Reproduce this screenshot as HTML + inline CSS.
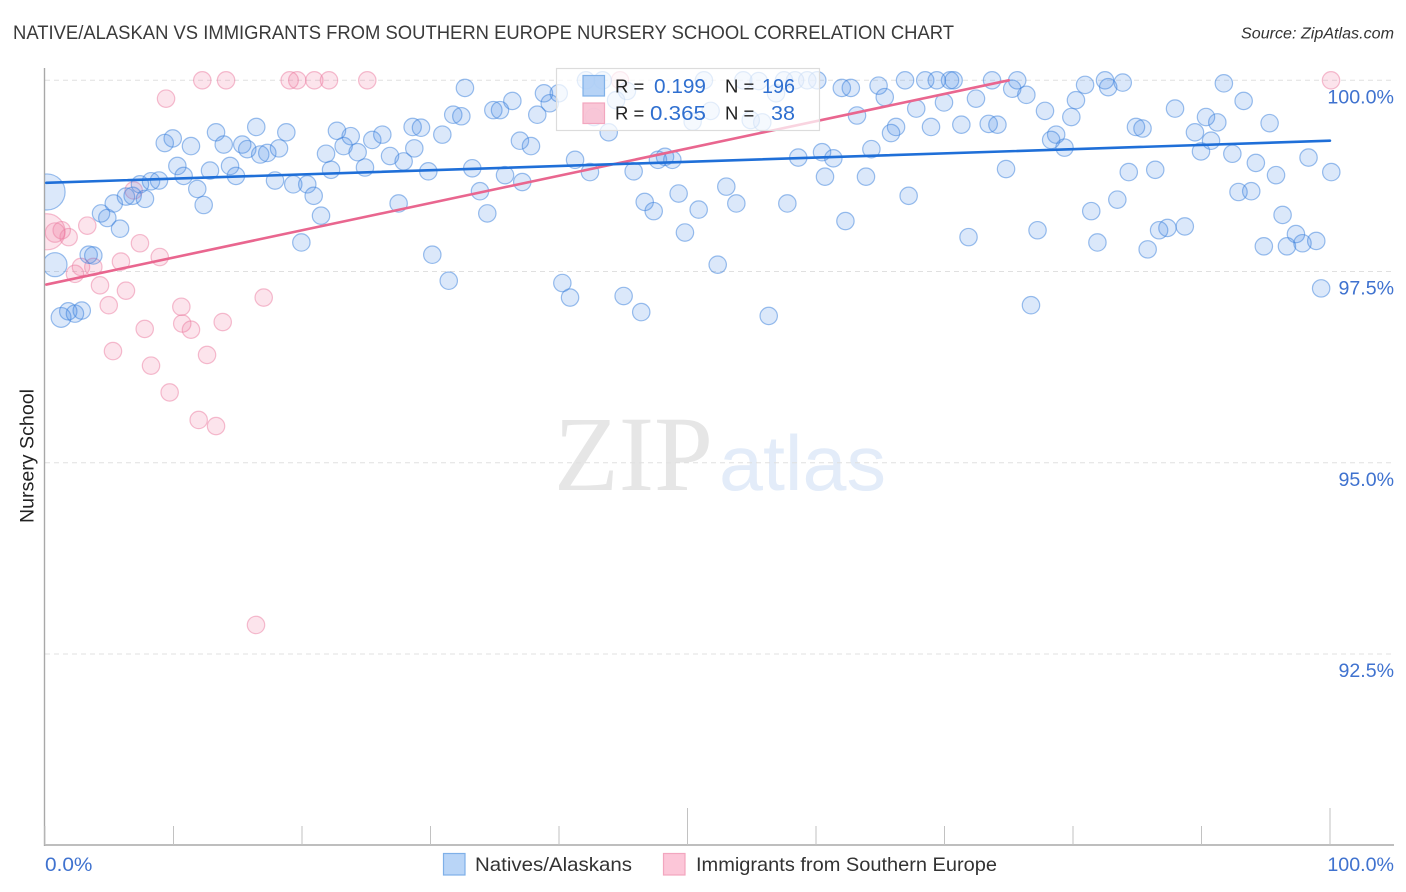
<!DOCTYPE html>
<html lang="en">
<head>
<meta charset="utf-8">
<title>Native/Alaskan vs Immigrants from Southern Europe Nursery School Correlation Chart</title>
<style>
html,body{margin:0;padding:0;background:#fff;}
svg{display:block;font-family:"Liberation Sans",sans-serif;}
</style>
</head>
<body>
<svg id="chart" width="1406" height="892" viewBox="0 0 1406 892" xmlns="http://www.w3.org/2000/svg">
  <defs>
    <clipPath id="plot-clip"><rect x="45" y="0" width="1361" height="892"/></clipPath>
  </defs>
  <rect width="1406" height="892" fill="#fff"/>
  <text x="13" y="39" font-size="19" fill="#3a3a3a" textLength="941" lengthAdjust="spacingAndGlyphs">NATIVE/ALASKAN VS IMMIGRANTS FROM SOUTHERN EUROPE NURSERY SCHOOL CORRELATION CHART</text>
  <text x="1394" y="38.5" font-size="15.5" font-style="italic" fill="#333" text-anchor="end" textLength="153" lengthAdjust="spacingAndGlyphs">Source: ZipAtlas.com</text>
  <g>
    <text x="554" y="490" font-family="'Liberation Serif',serif" font-size="107" fill="#e6e6e6" textLength="159" lengthAdjust="spacingAndGlyphs">ZIP</text>
    <text x="719" y="490" font-size="78" fill="#e3ecf9" textLength="167" lengthAdjust="spacingAndGlyphs">atlas</text>
  </g>
  <g id="grid"></g>
  <g id="axes"></g>
  <g id="points" clip-path="url(#plot-clip)"></g>
  <g id="trends"></g>
  <g id="tick-labels"></g>
  <text transform="translate(33.5,523) rotate(-90)" font-size="19.5" fill="#222" textLength="134" lengthAdjust="spacingAndGlyphs">Nursery School</text>

  <g>
    <rect x="556.5" y="68.5" width="263" height="62" fill="#fff" fill-opacity="0.72" stroke="#dcdcdc" stroke-width="1.2"/>
    <rect x="583" y="75.5" width="21.5" height="20.5" fill="#a9cbf5" fill-opacity="0.85" stroke="#7fb0e8" stroke-width="1.2"/>
    <rect x="583" y="103" width="21.5" height="20.5" fill="#f8bdd0" fill-opacity="0.85" stroke="#f2a6bf" stroke-width="1.2"/>
    <text x="615" y="92.5" font-size="18.5" fill="#222">R =</text>
    <text x="706" y="93" font-size="20.5" fill="#2f6fd0" text-anchor="end" textLength="52" lengthAdjust="spacingAndGlyphs">0.199</text>
    <text x="725" y="92.5" font-size="18.5" fill="#222">N =</text>
    <text x="795" y="93" font-size="20.5" fill="#2f6fd0" text-anchor="end" textLength="33" lengthAdjust="spacingAndGlyphs">196</text>
    <text x="615" y="119.5" font-size="18.5" fill="#222">R =</text>
    <text x="706" y="120" font-size="20.5" fill="#2f6fd0" text-anchor="end" textLength="56" lengthAdjust="spacingAndGlyphs">0.365</text>
    <text x="725" y="119.5" font-size="18.5" fill="#222">N =</text>
    <text x="795" y="120" font-size="20.5" fill="#2f6fd0" text-anchor="end" textLength="24" lengthAdjust="spacingAndGlyphs">38</text>
  </g>

  <g>
    <g>
      <rect x="443.5" y="853.5" width="21.5" height="21.5" fill="#b9d5f7" stroke="#7fb0e8" stroke-width="1.2"/>
      <text x="475" y="871" font-size="19.5" fill="#333" textLength="157" lengthAdjust="spacingAndGlyphs">Natives/Alaskans</text>
    </g>
    <g>
      <rect x="663.5" y="853.5" width="21.5" height="21.5" fill="#fcc6d8" stroke="#f2a6bf" stroke-width="1.2"/>
      <text x="696" y="871" font-size="19.5" fill="#333" textLength="301" lengthAdjust="spacingAndGlyphs">Immigrants from Southern Europe</text>
    </g>
  </g>
</svg>

<script>
// Axis data
const yTickValues = [100, 97.5, 95, 92.5];
const yTickLabels = ["100.0%", "97.5%", "95.0%", "92.5%"];
const xTickValues = [0, 10, 20, 30, 40, 50, 60, 70, 80, 90, 100];
const xMajorTicks = [50, 100];
const xEndValues = [0, 100];
const xEndLabels = ["0.0%", "100.0%"];

// Natives/Alaskans series
const nativesX = [0.16,0.78,1.25,1.81,2.33,2.86,3.40,3.76,4.36,4.85,5.84,5.35,6.30,6.82,7.39,7.78,8.25,8.87,9.32,9.94,
11.36,10.30,10.79,11.85,12.35,12.84,13.31,13.91,14.40,14.86,15.35,15.74,16.44,16.75,17.30,18.21,18.78,17.90,19.32,20.41,
20.91,21.48,19.95,22.72,23.79,23.24,21.87,22.26,24.33,25.47,26.25,26.85,27.91,24.90,27.52,28.61,29.26,28.74,32.68,31.77,
32.40,30.92,29.83,33.25,33.85,34.42,30.14,31.42,34.89,35.41,36.37,38.31,38.83,39.28,39.98,36.96,37.82,35.80,37.14,41.25,
42.41,43.87,45.81,47.70,48.25,48.82,46.67,47.37,49.31,50.87,49.80,53.02,53.80,57.77,52.35,40.26,40.86,45.03,46.40,56.32,
58.62,60.47,61.35,60.70,62.29,42.10,43.40,44.44,45.29,42.72,51.28,51.80,50.40,54.34,55.54,56.89,54.92,55.82,57.51,58.37,
59.32,60.10,62.01,62.71,64.87,65.35,66.93,68.50,69.40,70.43,70.71,73.70,75.66,75.27,76.37,72.45,69.96,67.80,63.19,66.23,
65.84,68.95,71.31,73.44,74.12,77.82,80.23,80.94,79.87,82.49,82.74,83.87,91.74,93.28,87.94,90.35,91.23,95.30,84.90,85.41,
89.49,90.74,89.96,78.69,78.30,79.34,64.31,92.40,94.23,95.80,98.33,100.10,84.34,86.40,74.79,63.89,67.21,83.45,81.42,92.88,
93.87,96.31,71.87,77.24,81.90,86.70,87.35,88.70,85.81,94.85,96.65,97.35,97.86,98.93,99.31,76.73];
const nativesY = [98.54,97.59,96.90,96.98,96.95,96.99,97.72,97.71,98.26,98.20,98.06,98.39,98.48,98.49,98.64,98.45,98.68,98.69,99.18,99.24,
99.14,98.88,98.75,98.58,98.37,98.82,99.32,99.16,98.88,98.75,99.16,99.10,99.39,99.03,99.05,99.11,99.32,98.69,98.64,98.64,
98.49,98.23,97.88,99.34,99.27,99.14,99.04,98.83,99.06,99.22,99.29,99.01,98.94,98.86,98.39,99.39,99.38,99.11,99.90,99.55,
99.53,99.29,98.81,98.85,98.55,98.26,97.72,97.38,99.61,99.61,99.73,99.55,99.83,99.70,99.83,99.21,99.14,98.76,98.67,98.96,
98.80,99.32,98.81,98.96,99.00,98.96,98.41,98.29,98.52,98.31,98.01,98.61,98.39,98.39,97.59,97.35,97.16,97.18,96.97,96.92,
98.99,99.06,98.98,98.74,98.16,100,100,99.74,99.86,99.52,100,99.60,99.46,100,99.99,99.83,99.48,99.45,100,100,
100,100,99.90,99.90,99.93,99.78,100,100,100,100,100,100,100,99.89,99.81,99.76,99.71,99.63,99.54,99.39,
99.31,99.39,99.42,99.43,99.42,99.60,99.74,99.94,99.52,100,99.91,99.97,99.96,99.73,99.63,99.52,99.45,99.44,99.39,99.37,
99.32,99.21,99.07,99.29,99.22,99.12,99.10,99.04,98.92,98.76,98.99,98.80,98.80,98.83,98.84,98.74,98.49,98.44,98.29,98.54,
98.55,98.24,97.95,98.04,97.88,98.04,98.07,98.09,97.79,97.83,97.83,97.99,97.87,97.90,97.28,97.06];
const nativesWeights = [4.3, 1.9, 1.3];

// Immigrants from Southern Europe series
const immigrantsX = [0.16,0.78,1.30,1.84,3.29,7.39,8.93,2.80,3.76,2.33,5.91,4.28,6.30,4.96,10.61,17.02,10.68,13.83,11.36,7.76,
6.90,9.42,12.24,14.09,19.04,19.63,20.96,22.10,25.08,100.08,44.75,5.29,8.25,12.61,9.70,11.96,13.31,16.42];
const immigrantsY = [98.02,98.01,98.04,97.95,98.10,97.87,97.69,97.56,97.56,97.47,97.63,97.32,97.25,97.06,97.04,97.16,96.82,96.84,96.74,96.75,
98.56,99.76,100,100,100,100,100,100,100,100,100,96.46,96.27,96.41,95.92,95.56,95.48,92.88];
const immigrantsWeights = [4.3, 1.25];

// Trend-line end values
const nativesTrendX = [0.1, 100];
const nativesTrendY = [98.66, 99.21];
const immigrantsTrendX = [0.1, 75];
const immigrantsTrendY = [97.33, 100];

const SVG_NS = "http://www.w3.org/2000/svg";
const xScale = function (v) { return 45 + v * 12.85; };
const yScale = function (v) { return 80.3 + (100 - v) * 76.5; };
const baseY = 845;
const baseRadius = 8.7;

function make(tag, attrs, parent) {
  const el = document.createElementNS(SVG_NS, tag);
  Object.keys(attrs).forEach(function (k) { el.setAttribute(k, attrs[k]); });
  parent.appendChild(el);
  return el;
}

// Fits a tick label to the width of the reference's wider typeface.
function tickLabelWidth(text) {
  return text.length * 11.1;
}

const gridGroup = document.getElementById("grid");
const axesGroup = document.getElementById("axes");
const labelGroup = document.getElementById("tick-labels");
const pointGroup = document.getElementById("points");
const trendGroup = document.getElementById("trends");

yTickValues.forEach(function (v, i) {
  const line = make("line", {x1: 45, x2: 1394, y1: yScale(v), y2: yScale(v), stroke: "#e0e0e0", "stroke-width": 1, "stroke-dasharray": "5 4"}, gridGroup);
  
  
  const label = make("text", {x: 1394, y: yScale(v) + 23, "font-size": 19, fill: "#3f72cf", "text-anchor": "end", textLength: tickLabelWidth(yTickLabels[i]), lengthAdjust: "spacingAndGlyphs"}, labelGroup);
  label.textContent = yTickLabels[i];
  
  
});

const yAxisLine = make("line", {x1: 44.5, x2: 44.5, y1: 68, y2: baseY + 1, stroke: "#a8a8a8", "stroke-width": 1.4}, axesGroup);


const xAxisLine = make("line", {x1: 44, x2: 1394, y1: baseY, y2: baseY, stroke: "#a8a8a8", "stroke-width": 1.4}, axesGroup);



xTickValues.forEach(function (v) {
  const major = xMajorTicks.indexOf(v) >= 0;
  const tick = make("line", {x1: xScale(v), x2: xScale(v), y1: major ? 808 : 826, y2: baseY, stroke: "#c2c2c2", "stroke-width": 1}, axesGroup);
  
  
});

xEndValues.forEach(function (v, i) {
  const label = make("text", {x: i === 0 ? xScale(v) : 1394, y: 871, "font-size": 19, fill: "#3f72cf", "text-anchor": i === 0 ? "start" : "end", textLength: tickLabelWidth(xEndLabels[i]) + (i === 0 ? 3 : 0), lengthAdjust: "spacingAndGlyphs"}, labelGroup);
  label.textContent = xEndLabels[i];
  
  
});

function drawPoints(xs, ys, weights, fill, stroke) {
  xs.forEach(function (xv, i) {
    const w = weights[i] || 1;
    const c = make("circle", {cx: xScale(xv), cy: yScale(ys[i]), r: baseRadius * Math.sqrt(w), fill: fill, "fill-opacity": 0.19, stroke: stroke, "stroke-opacity": 0.5, "stroke-width": 1.2}, pointGroup);
    
    
  });
}
drawPoints(immigrantsX, immigrantsY, immigrantsWeights, "#ef6f9a", "#ec7ea2");
drawPoints(nativesX, nativesY, nativesWeights, "#3f87e5", "#3a80dc");

function drawTrend(xs, ys, color) {
  const t = make("line", {x1: xScale(xs[0]), y1: yScale(ys[0]), x2: xScale(xs[1]), y2: yScale(ys[1]), stroke: color, "stroke-width": 2.6, "stroke-linecap": "round"}, trendGroup);
  
  
}
drawTrend(immigrantsTrendX, immigrantsTrendY, "#e9668f");
drawTrend(nativesTrendX, nativesTrendY, "#1f6fd8");
</script>
</body>
</html>
